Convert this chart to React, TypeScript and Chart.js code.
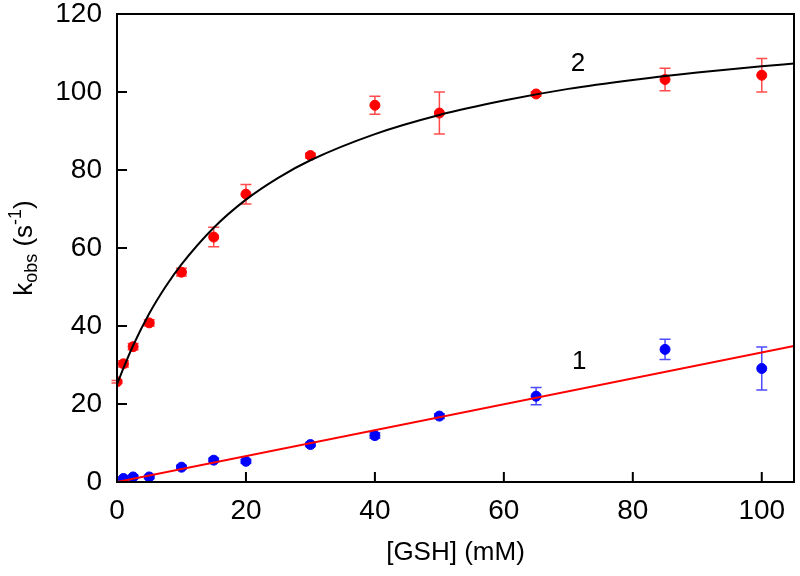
import React, { useEffect, useRef } from "react";
import { Chart, registerables } from "chart.js";

Chart.register(...registerables);

// ---- data ----
const gshRed = [0, 1, 2.5, 5, 10, 15, 20, 30, 40, 50, 65, 85, 100];
const kobsRed = [25.7, 30.3, 34.7, 40.8, 53.8, 62.8, 73.8, 83.7, 96.6, 94.6, 99.5, 103.2, 104.3];
const errRed = [0.3, 0.8, 0.8, 0.8, 1.0, 2.5, 2.5, 0.6, 2.3, 5.4, 0.5, 2.9, 4.3];

const gshBlue = [1, 2.5, 5, 10, 15, 20, 30, 40, 50, 65, 85, 100];
const kobsBlue = [0.9, 1.3, 1.3, 3.8, 5.6, 5.3, 9.6, 11.9, 16.9, 22.0, 34.0, 29.1];
const errBlue = [0.3, 0.4, 0.4, 0.5, 0.5, 0.5, 0.5, 0.7, 0.6, 2.2, 2.6, 5.5];

const fitCurveX = [0, 1, 2.5, 5, 7.5, 10, 15, 20, 25, 30, 40, 50, 60, 70, 80, 90, 100, 105];
const fitCurveY = [25.0, 29.2, 35.0, 43.2, 50.0, 55.8, 65.2, 72.4, 78.0, 82.5, 89.2, 94.1, 97.8, 100.8, 103.1, 105.0, 106.6, 107.3];

const fitLineX = [0, 105];
const fitLineY = [0, 34.9];

const xTickValues = [0, 20, 40, 60, 80, 100];
const yTickValues = [0, 20, 40, 60, 80, 100, 120];

const curveLabelText = ["2", "1"];
const curveLabelX = [71.5, 71.7];
const curveLabelY = [107.3, 30.8];

const xTitle = "[GSH] (mM)";
const yTitleParts = ["k", "obs", " (s", "-1", ")"];

const FONT = "'Liberation Sans', Arial, Helvetica, sans-serif";

const toPoints = (xs: number[], ys: number[]) => xs.map((x, i) => ({ x, y: ys[i] }));

const overlay = {
  id: "overlay",
  beforeDatasetsDraw(chart: any) {
    const ctx = chart.ctx;
    const xs = chart.scales.x;
    const ys = chart.scales.y;
    chart.data.datasets.forEach((ds: any) => {
      if (!ds.errors) return;
      ctx.save();
      ctx.strokeStyle = ds.errorColor;
      ctx.lineWidth = 1.5;
      ds.data.forEach((p: any, i: number) => {
        const e = ds.errors[i];
        const px = xs.getPixelForValue(p.x);
        const y1 = ys.getPixelForValue(p.y + e);
        const y2 = ys.getPixelForValue(p.y - e);
        ctx.beginPath();
        ctx.moveTo(px, y1);
        ctx.lineTo(px, y2);
        ctx.moveTo(px - 5.5, y1);
        ctx.lineTo(px + 5.5, y1);
        ctx.moveTo(px - 5.5, y2);
        ctx.lineTo(px + 5.5, y2);
        ctx.stroke();
      });
      ctx.restore();
    });
  },
  afterDraw(chart: any) {
    const ctx = chart.ctx;
    const a = chart.chartArea;
    const xs = chart.scales.x;
    const ys = chart.scales.y;
    ctx.save();
    // frame
    ctx.strokeStyle = "#000";
    ctx.lineWidth = 2;
    ctx.strokeRect(a.left, a.top, a.right - a.left, a.bottom - a.top);
    // inward ticks
    ctx.beginPath();
    xTickValues.forEach((v) => {
      const px = xs.getPixelForValue(v);
      ctx.moveTo(px, a.bottom);
      ctx.lineTo(px, a.bottom - 10);
    });
    yTickValues.forEach((v) => {
      const py = ys.getPixelForValue(v);
      ctx.moveTo(a.left, py);
      ctx.lineTo(a.left + 10, py);
    });
    ctx.stroke();
    // curve labels
    ctx.fillStyle = "#000";
    ctx.font = `26px ${FONT}`;
    ctx.textAlign = "center";
    ctx.textBaseline = "middle";
    curveLabelText.forEach((t, i) => {
      ctx.fillText(t, xs.getPixelForValue(curveLabelX[i]), ys.getPixelForValue(curveLabelY[i]));
    });
    // y axis title with subscript / superscript
    const sizes = [26, 18, 26, 18, 26];
    const offs = [0, 5, 0, -11, 0];
    let total = 0;
    const widths = yTitleParts.map((t, i) => {
      ctx.font = `${sizes[i]}px ${FONT}`;
      const w = ctx.measureText(t).width;
      total += w;
      return w;
    });
    ctx.translate(31.5, (a.top + a.bottom) / 2);
    ctx.rotate(-Math.PI / 2);
    ctx.textAlign = "left";
    ctx.textBaseline = "alphabetic";
    let cx = -total / 2;
    yTitleParts.forEach((t, i) => {
      ctx.font = `${sizes[i]}px ${FONT}`;
      ctx.fillText(t, cx, offs[i]);
      cx += widths[i];
    });
    ctx.restore();
  },
};

export default function App() {
  const ref = useRef<HTMLCanvasElement | null>(null);
  useEffect(() => {
    if (!ref.current) return;
    const chart = new Chart(ref.current, {
      type: "scatter",
      data: {
        datasets: [
          {
            type: "line",
            data: toPoints(fitLineX, fitLineY),
            borderColor: "#ff0000",
            borderWidth: 2,
            pointRadius: 0,
            fill: false,
          } as any,
          {
            type: "line",
            data: toPoints(fitCurveX, fitCurveY),
            borderColor: "#000000",
            borderWidth: 2,
            pointRadius: 0,
            cubicInterpolationMode: "monotone",
            fill: false,
          } as any,
          {
            data: toPoints(gshBlue, kobsBlue),
            backgroundColor: "#0000ff",
            borderColor: "#0000ff",
            pointRadius: 5,
            errors: errBlue,
            errorColor: "rgba(30,30,255,0.8)",
          } as any,
          {
            data: toPoints(gshRed, kobsRed),
            backgroundColor: "#ff0000",
            borderColor: "#ff0000",
            pointRadius: 5,
            errors: errRed,
            errorColor: "rgba(255,30,30,0.8)",
          } as any,
        ],
      },
      options: {
        animation: false,
        responsive: true,
        maintainAspectRatio: false,
        layout: { padding: { left: 0, top: 14, right: 5, bottom: 0 } },
        plugins: { legend: { display: false }, tooltip: { enabled: false } },
        scales: {
          x: {
            type: "linear",
            min: 0,
            max: 105,
            grid: { display: false, drawTicks: false },
            border: { display: false },
            afterBuildTicks: (s: any) => {
              s.ticks = xTickValues.map((v) => ({ value: v }));
            },
            afterFit: (s: any) => {
              s.height = 94;
              s.paddingLeft = 0;
              s.paddingRight = 0;
            },
            ticks: {
              color: "#000",
              padding: 12,
              maxRotation: 0,
              font: { family: FONT, size: 28 },
            },
            title: {
              display: true,
              text: xTitle,
              color: "#000",
              padding: { top: 0, bottom: 8 },
              font: { family: FONT, size: 26 },
            },
          },
          y: {
            type: "linear",
            min: 0,
            max: 120,
            grid: { display: false, drawTicks: false },
            border: { display: false },
            afterBuildTicks: (s: any) => {
              s.ticks = yTickValues.map((v) => ({ value: v }));
            },
            afterFit: (s: any) => {
              s.width = 117;
              s.paddingTop = 0;
              s.paddingBottom = 0;
            },
            ticks: {
              color: "#000",
              padding: 15,
              font: { family: FONT, size: 28 },
            },
          },
        },
      } as any,
      plugins: [overlay],
    });
    return () => chart.destroy();
  }, []);
  return (
    <div style={{ position: "absolute", left: 0, top: 0, width: 800, height: 576, background: "#fff" }}>
      <canvas ref={ref} />
    </div>
  );
}
